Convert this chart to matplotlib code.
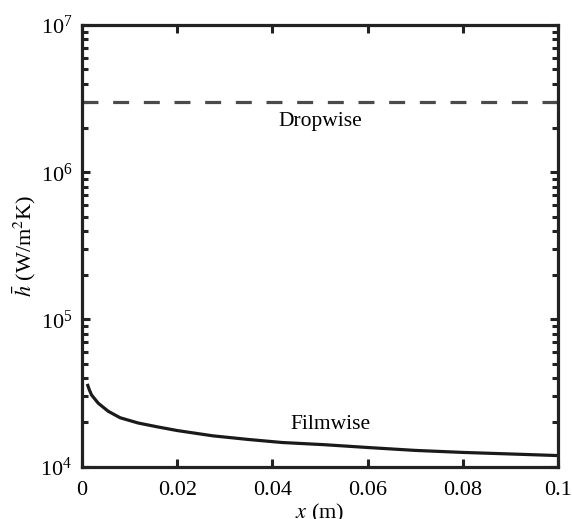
import matplotlib
matplotlib.use('Agg')
import matplotlib.pyplot as plt
from matplotlib.ticker import LogLocator, FixedLocator, FixedFormatter

plt.rcParams['font.family'] = ['Liberation Serif', 'DejaVu Serif']
plt.rcParams['mathtext.fontset'] = 'stix'

# average heat transfer coefficient along the plate
x_film = [0.0011, 0.0015, 0.002, 0.0034, 0.0055, 0.008, 0.0118, 0.016, 0.020,
          0.0275, 0.035, 0.042, 0.051, 0.060, 0.070, 0.080, 0.090, 0.100]
h_film = [3.65e4, 3.35e4, 3.07e4, 2.70e4, 2.38e4, 2.15e4, 1.98e4, 1.86e4, 1.76e4,
          1.62e4, 1.53e4, 1.46e4, 1.41e4, 1.35e4, 1.29e4, 1.25e4, 1.22e4, 1.19e4]
h_drop = 3.0e6

x_ticks = [0, 0.02, 0.04, 0.06, 0.08, 0.1]
x_ticklabels = ['0', '0.02', '0.04', '0.06', '0.08', '0.1']

fig = plt.figure(figsize=(5.72, 5.19), dpi=100)
ax = fig.add_axes([0.1434, 0.1008, 0.832, 0.851])

ax.plot(x_film, h_film, color='#1a1a1a', lw=2.3, solid_capstyle='butt')
ax.axhline(h_drop, color='#4a4a4a', lw=2.3, dashes=(5, 4.6))

ax.text(0.05, 2.2e6, 'Dropwise', ha='center', va='center', fontsize=15.5)
ax.text(0.0523, 1.92e4, 'Filmwise', ha='center', va='center', fontsize=15.5)

ax.set_yscale('log')
ax.set_xlim(0, 0.1)
ax.set_ylim(1e4, 1e7)
ax.xaxis.set_major_locator(FixedLocator(x_ticks))
ax.xaxis.set_major_formatter(FixedFormatter(x_ticklabels))
ax.yaxis.set_major_locator(LogLocator(base=10, numticks=10))
ax.yaxis.set_minor_locator(LogLocator(base=10, subs=range(2, 10), numticks=20))

ax.tick_params(which='both', direction='in', top=True, right=True,
               labelsize=16, width=2.2, color='#222222')
ax.tick_params(which='major', length=6)
ax.tick_params(axis='x', which='major', pad=10)
ax.tick_params(axis='y', which='major', pad=7)
ax.tick_params(which='minor', length=4)
for s in ax.spines.values():
    s.set_linewidth(2.3)
    s.set_color('#222222')

ax.set_xlabel(r'$x$ (m)', fontsize=16, labelpad=2)
ax.set_ylabel(r'$\bar{h}$ (W/m$^2$K)', fontsize=16, labelpad=2)

fig.savefig('out.png', dpi=100)
